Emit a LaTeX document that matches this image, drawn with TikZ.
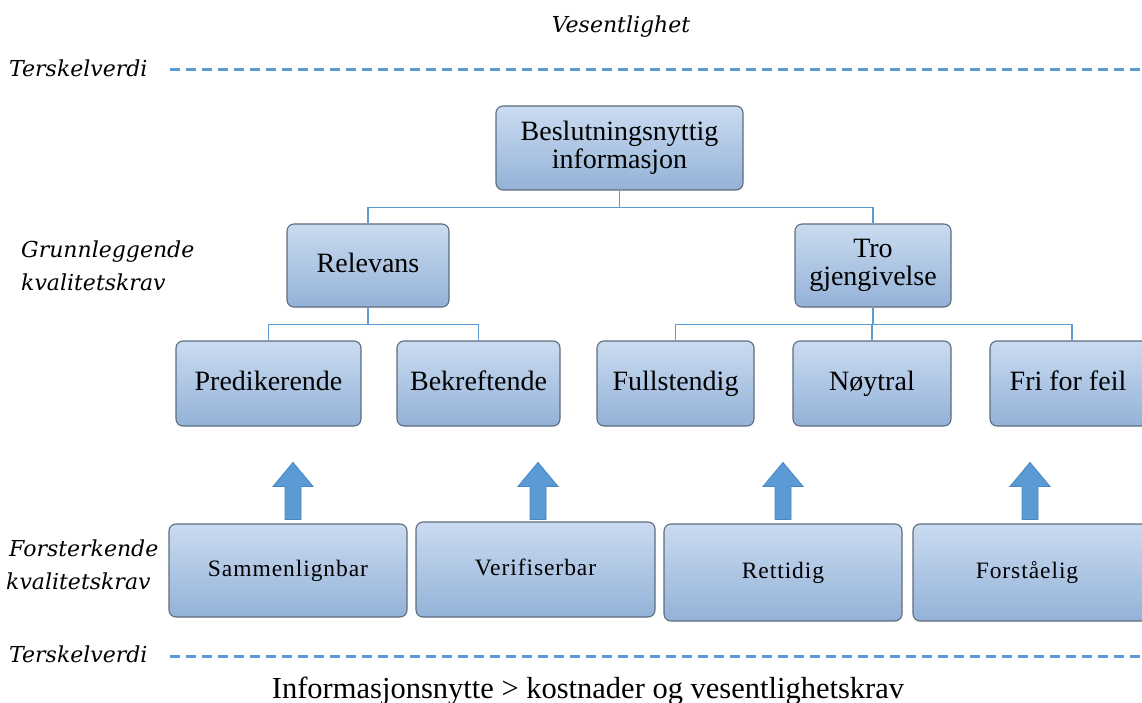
\documentclass[tikz,border=0pt]{standalone}
\usepackage{fontspec}
\setmainfont{Liberation Serif}
\newfontfamily\lblfont{DejaVu Serif}
\newfontfamily\spacedfont{Liberation Serif}[LetterSpace=4]
\definecolor{boxtop}{HTML}{CADBF0}
\definecolor{boxbot}{HTML}{93B2D8}
\definecolor{boxline}{HTML}{5E6C7E}
\definecolor{lineblue}{HTML}{5B9BD5}
\definecolor{arrowedge}{HTML}{4A86C0}
\tikzset{
  box/.style={rectangle, rounded corners=7pt, top color=boxtop, bottom color=boxbot,
    draw=boxline, line width=1.1pt, align=center, inner sep=2pt,
    font=\fontsize{28}{28}\selectfont, execute at begin node={\rule[-5pt]{0pt}{22pt}}},
  lowbox/.style={box, font=\spacedfont\fontsize{23.5}{28}\selectfont},
  conn/.style={draw=lineblue, line width=1.5pt},
  dashline/.style={draw=lineblue, line width=3pt, dash pattern=on 10pt off 6pt},
  lbl/.style={font=\lblfont\itshape\fontsize{22}{33}\selectfont, inner sep=0pt, align=left},
  blockup/.pic={\filldraw[fill=lineblue, draw=arrowedge, line width=0.8pt]
    (-8,0) -- (-8,-33) -- (-20,-33) -- (0,-57) -- (20,-33) -- (8,-33) -- (8,0) -- cycle;}
}
\begin{document}
\begin{tikzpicture}[x=1pt, y=-1pt]
\useasboundingbox (0,0) rectangle (1142,703);
\clip (0,0) rectangle (1142,703);
\fill[white] (0,0) rectangle (1142,703);

% threshold lines
\coordinate (t1a) at (170,70);
\coordinate (t1b) at (1145,70);
\coordinate (t2a) at (170,656);
\coordinate (t2b) at (1145,656);
\draw[dashline] (t1a) -- (t1b);
\draw[dashline] (t2a) -- (t2b);

% labels
\node[lbl] (ves) at (621,27) {Vesentlighet};
\node[lbl, anchor=west] (ter1) at (9,68) {Terskelverdi};
\node[lbl, anchor=west] (grunn) at (21,266) {Grunnleggende\\kvalitetskrav};
\node[lbl, anchor=west] (forst) at (6,565) {\hspace*{3pt}Forsterkende\\kvalitetskrav};
\node[lbl, anchor=west] (ter2) at (9,654) {Terskelverdi};
\node[font=\fontsize{30.5}{30}\selectfont, inner sep=0pt] (bottxt) at (588,691) {Informasjonsnytte > kostnader og vesentlighetskrav};

% boxes
\node[box, minimum width=247pt, minimum height=84pt] (top) at (619.5,148) {Beslutningsnyttig\\informasjon};
\node[box, minimum width=162pt, minimum height=83pt] (rel) at (368,265.5) {Relevans};
\node[box, minimum width=156pt, minimum height=83pt] (tro) at (873,265.5) {Tro\\gjengivelse};

\node[box, minimum width=185pt, minimum height=85pt] (pred) at (268.5,383.5) {Predikerende};
\node[box, minimum width=163pt, minimum height=85pt] (bek) at (478.5,383.5) {Bekreftende};
\node[box, minimum width=157pt, minimum height=85pt] (full) at (675.5,383.5) {Fullstendig};
\node[box, minimum width=158pt, minimum height=85pt] (noy) at (872,383.5) {Nøytral};
\node[box, minimum width=164pt, minimum height=85pt] (fri) at (1072,383.5) {\hspace*{-8pt}Fri for feil};

\node[lowbox, minimum width=238pt, minimum height=93pt] (sam) at (288,570.5) {Sammenlignbar};
\node[lowbox, minimum width=239pt, minimum height=95pt] (ver) at (535.5,569.5) {Verifiserbar};
\node[lowbox, minimum width=238pt, minimum height=97pt] (ret) at (783,572.5) {Rettidig};
\node[lowbox, minimum width=236pt, minimum height=97pt] (forb) at (1031,572.5) {\hspace*{-8pt}Forståelig};

% connectors
\draw[conn] (top.south) -- ++(0,17) -| (rel.north);
\draw[conn] (top.south) -- ++(0,17) -| (tro.north);
\draw[conn] (rel.south) -- ++(0,17) -| (pred.north);
\draw[conn] (rel.south) -- ++(0,17) -| (bek.north);
\draw[conn] (tro.south) -- ++(0,17) -| (full.north);
\draw[conn] (tro.south) -- ++(0,17) -| (noy.north);
\draw[conn] (tro.south) -- ++(0,17) -| (fri.north);

% block arrows
\path (sam.north) ++(5,-4) pic {blockup};
\path (ver.north) ++(2.5,-2) pic {blockup};
\path (ret.north) ++(0,-4) pic {blockup};
\path (forb.north) ++(-1,-4) pic {blockup};
\end{tikzpicture}
\end{document}
